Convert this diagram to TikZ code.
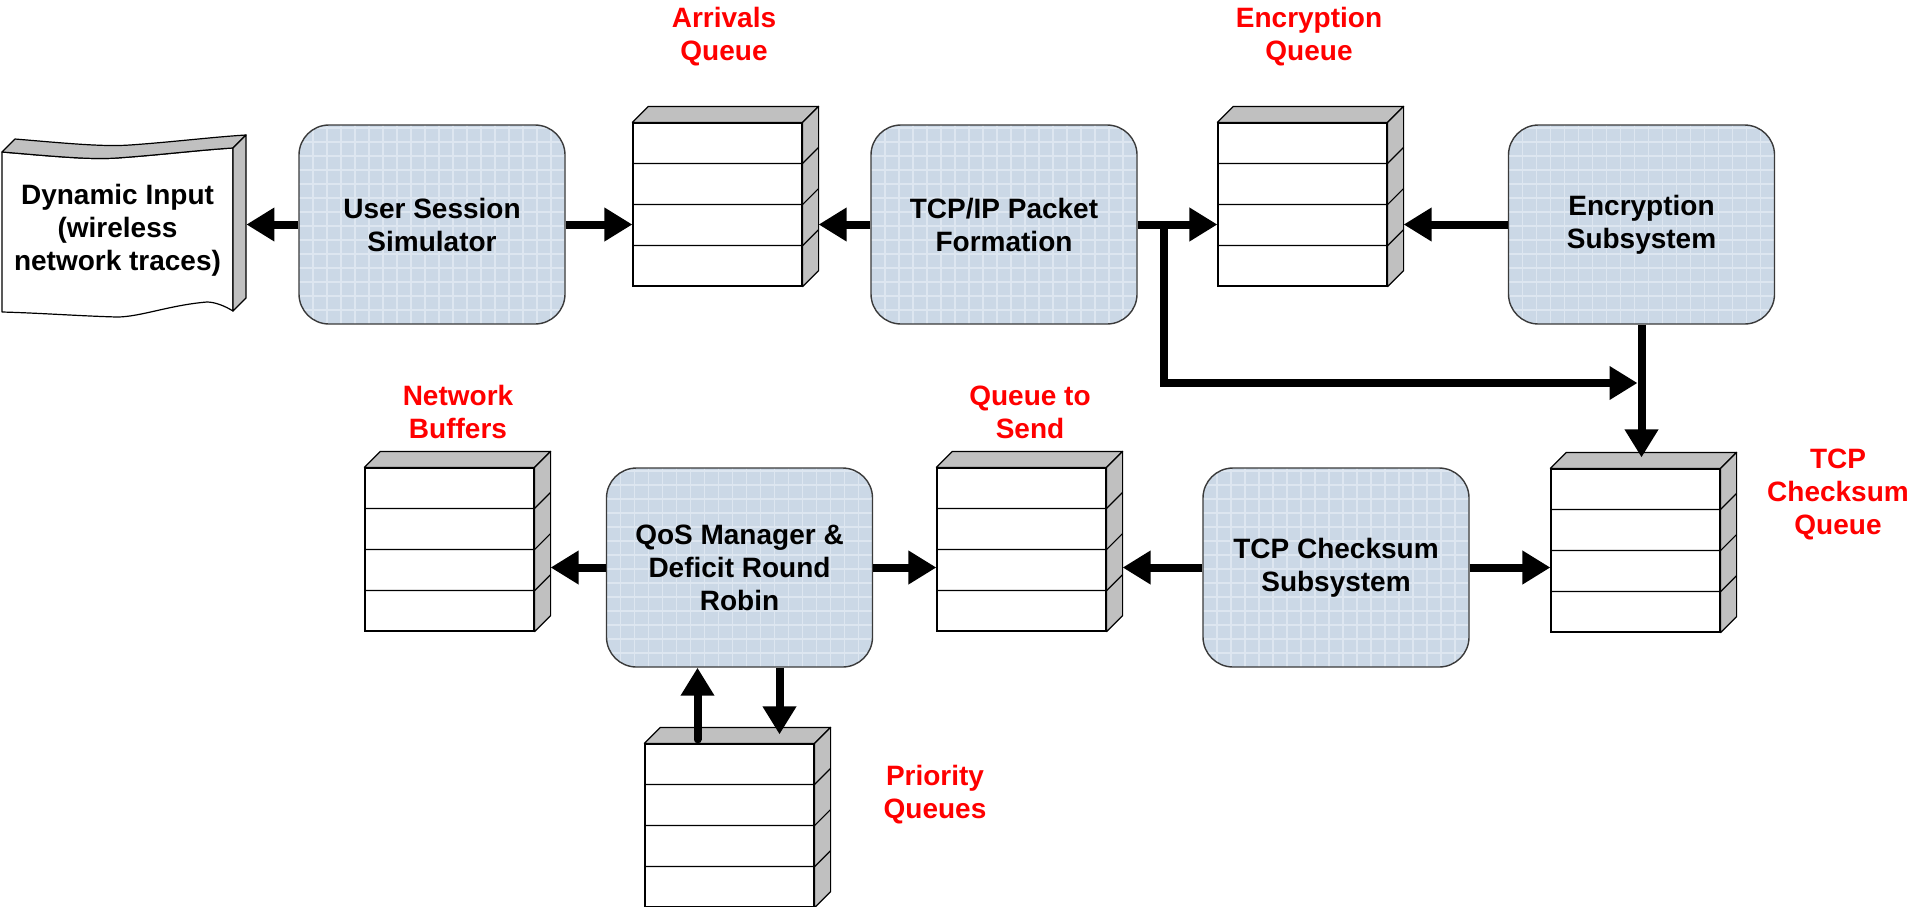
\documentclass[tikz,border=0pt]{standalone}
\usepackage{fontspec}
\setmainfont{Liberation Sans}
\usetikzlibrary{arrows.meta,calc}

\definecolor{boxfill}{HTML}{CBD8E6}
\definecolor{boxgrid}{HTML}{DDE6F0}
\definecolor{boxedge}{HTML}{3A3A3A}
\definecolor{qgray}{HTML}{C0C0C0}
\definecolor{lblred}{HTML}{FF0000}

\tikzset{
  every node/.style={font=\bfseries\fontsize{14}{16.5}\selectfont},
  procbox/.style={draw=boxedge, line width=0.7pt, fill=boxfill,
    rounded corners=15pt, minimum width=133pt, minimum height=99.5pt,
    align=center, inner sep=0pt,
    path picture={
      \foreach \k in {1,...,19}
        \draw[boxgrid,line width=0.8pt]
          ([xshift=\k*7pt]path picture bounding box.south west) --
          ([xshift=\k*7pt]path picture bounding box.north west);
      \foreach \k in {1,...,14}
        \draw[boxgrid,line width=0.8pt]
          ([yshift=\k*7pt]path picture bounding box.south west) --
          ([yshift=\k*7pt]path picture bounding box.south east);
    }},
  fifonode/.style={draw=black, line width=0.6pt, fill=white,
    minimum width=84.5pt, minimum height=81.5pt, inner sep=0pt},
  qface/.style={fill=qgray, draw=black, line width=0.6pt, line join=round},
  qlabel/.style={text=lblred, align=center, inner sep=0pt},
  flow/.style={line width=4pt, -{Triangle[length=14pt,width=16pt]}},
}

% a stacked queue: front node plus its shaded top and side
\newcommand{\fifo}[3]{%
  \node[fifonode] (#1) at (#2,#3) {};
  \path[qface] (#1.north west) -- ++(8pt,8pt) -- ([shift={(8pt,8pt)}]#1.north east)
    -- (#1.north east) -- cycle;
  \path[qface] (#1.north east) -- ++(8pt,8pt) -- ([shift={(8pt,8pt)}]#1.south east)
    -- (#1.south east) -- cycle;
  \foreach \fr in {0.25,0.5,0.75}
    \draw[line width=0.6pt] ($(#1.north west)!\fr!(#1.south west)$)
      -- ($(#1.north east)!\fr!(#1.south east)$) -- ++(8pt,8pt);
}

\begin{document}
\begin{tikzpicture}[x=0.5pt,y=-0.5pt]
\useasboundingbox (0,0) rectangle (1915,906);

% input document shape
\filldraw[fill=white, draw=black, line width=0.6pt, line join=round]
  (2,152) .. controls (50,156) and (90,160) .. (117,158)
  .. controls (160,155) and (200,150) .. (233,148) -- (233,311)
  .. controls (225,306) and (215,302) .. (207,302)
  .. controls (170,305) and (140,317) .. (117,317)
  .. controls (80,316) and (40,313) .. (2,312) -- cycle;
\filldraw[fill=qgray, draw=black, line width=0.6pt, line join=round]
  (2,152) .. controls (50,156) and (90,160) .. (117,158)
  .. controls (160,155) and (200,150) .. (233,148) -- (246,135)
  .. controls (213,137) and (173,142) .. (130,145)
  .. controls (103,147) and (63,143) .. (15,139) -- cycle;
\filldraw[fill=qgray, draw=black, line width=0.6pt, line join=round]
  (233,148) -- (246,135) -- (246,298) -- (233,311) -- cycle;
\node[minimum width=115.5pt, minimum height=80pt, align=center, inner sep=0pt]
  (din) at (117.5,230) {Dynamic Input\\(wireless\\network traces)};

% processing blocks
\node[procbox] (uss) at (432,224.5)    {User Session\\Simulator};
\node[procbox] (tcp) at (1004,224.5)   {TCP/IP Packet\\Formation};
\node[procbox] (enc) at (1641.5,224.5) {Encryption\\Subsystem};
\node[procbox] (qos) at (739.5,567.5)  {QoS Manager \&\\Deficit Round\\Robin};
\node[procbox] (tcs) at (1336,567.5)   {TCP Checksum\\Subsystem};

% queues
\fifo{aq}{717.5}{204.5}
\fifo{eq}{1302.5}{204.5}
\fifo{nb}{449.5}{549.5}
\fifo{qs}{1021.5}{549.5}
\fifo{tcq}{1635.5}{550.5}
\fifo{pq}{729.5}{825.5}

% queue captions
\node[qlabel] (laq)  at (724,37)   {Arrivals\\Queue};
\node[qlabel] (leq)  at (1309,37)  {Encryption\\Queue};
\node[qlabel] (lnb)  at (458,412)  {Network\\Buffers};
\node[qlabel] (lqs)  at (1030,412) {Queue to\\Send};
\node[qlabel] (ltcq) at (1838,494) {TCP\\Checksum\\Queue};
\node[qlabel] (lpq)  at (935,795)  {Priority\\Queues};

% attachment points on the shaded sides
\coordinate (dinR) at ([xshift=6.5pt]din.east);
\coordinate (aqR)  at ([xshift=8pt]aq.east);
\coordinate (eqR)  at ([xshift=8pt]eq.east);
\coordinate (nbR)  at ([xshift=8pt]nb.east);
\coordinate (qsR)  at ([xshift=8pt]qs.east);
\coordinate (tcqT) at ([yshift=5.5pt]tcq.north);
\coordinate (br)   at ([xshift=13pt]tcp.east);
\coordinate (brlow) at (1163,383);
\coordinate (join) at (enc.south |- brlow);
\coordinate (pqUp) at ([xshift=-16pt,yshift=2pt]pq.north);
\coordinate (pqDn) at ([xshift=25pt,yshift=4.5pt]pq.north);

% flows, upper row
\draw[flow] (uss.west) -- (dinR |- uss.west);
\draw[flow] (uss.east) -- (aq.west |- uss.east);
\draw[flow] (tcp.west) -- (aqR |- tcp.west);
\draw[flow] (tcp.east) -- (eq.west |- tcp.east);
\draw[flow] (enc.west) -- (eqR |- enc.west);
\draw[flow] (br) |- ([xshift=-2pt]join);
\draw[flow] (enc.south) -- (enc.south |- tcqT);

% flows, lower row
\draw[flow] (qos.west) -- (nbR |- qos.west);
\draw[flow] (qos.east) -- (qs.west |- qos.east);
\draw[flow] (tcs.west) -- (qsR |- tcs.west);
\draw[flow] (tcs.east) -- (tcq.west |- tcs.east);
\draw[flow, line cap=round] (pqUp) -- (pqUp |- qos.south);
\draw[flow] (pqDn |- qos.south) -- (pqDn);
\end{tikzpicture}
\end{document}
